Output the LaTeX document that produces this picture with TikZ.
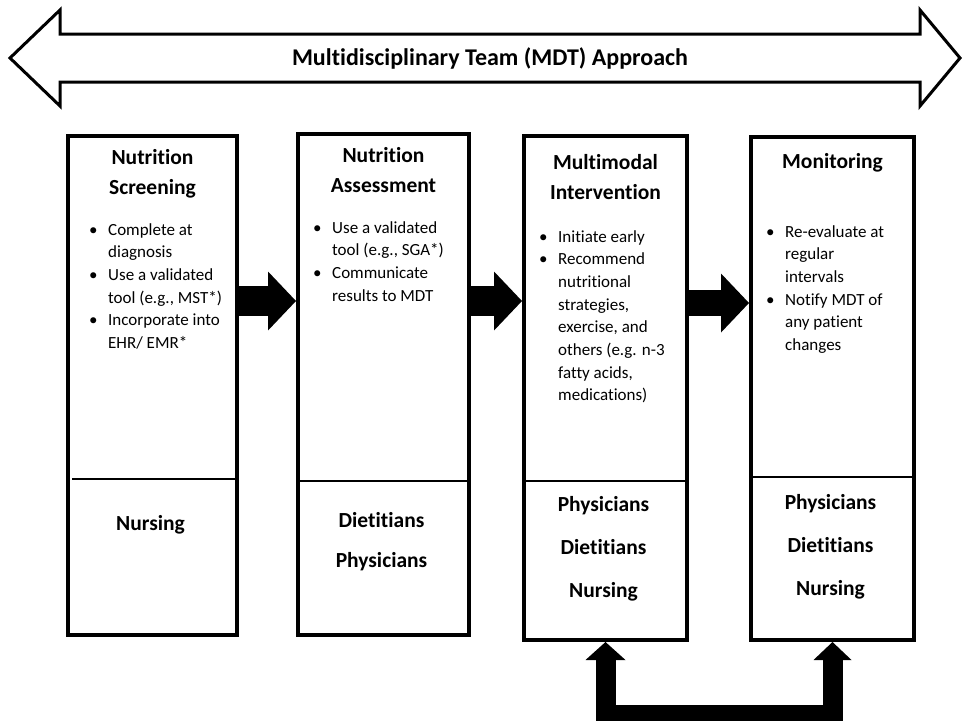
\documentclass[tikz,border=0pt]{standalone}
\usepackage{fontspec}
\setmainfont{Carlito}[Ligatures=NoCommon]
\usetikzlibrary{positioning,calc,arrows.meta}

\newcommand{\bul}{\makebox[19pt][l]{•}}
\newcommand{\ind}{\makebox[19pt]{}}

\begin{document}
\begin{tikzpicture}[x=1pt,y=-1pt,
stagebox/.style={rectangle, draw=black, line width=4pt, inner sep=0pt, anchor=north west},
stagetitle/.style={align=center, font=\fontsize{21.5}{30}\selectfont\bfseries},
stagetext/.style={align=left, anchor=north west, inner sep=0pt, font=\fontsize{17}{22.7}\selectfont},
rolelist/.style={align=center, font=\fontsize{21.5}{43}\selectfont\bfseries},
divider/.style={line width=1.5pt},
blockarrow/.style={line width=30pt, -{Triangle[length=28pt,width=59pt,line width=0pt]}},
backarrow/.style={line width=20pt, line join=miter, {Triangle[length=18pt,width=40pt,line width=0pt]}-{Triangle[length=18pt,width=38pt,line width=0pt]}},
]
\useasboundingbox (0,0) rectangle (963,720);

%Top arrow
\draw[line width=3pt, fill=white] (10,58) -- (60,10) -- (60,34) -- (920,34) -- (920,10) -- (960,58)
  -- (920,106) -- (920,82) -- (60,82) -- (60,106) -- cycle;
\node[font=\fontsize{24}{28}\selectfont\bfseries] (mdt) at (490,58) {Multidisciplinary Team (MDT) Approach};

%Nodes
\node[stagebox, minimum width=169, minimum height=499] (scr) at (66,134) {};
\node[stagebox, minimum width=171, minimum height=501] (asm) at (296,132) {};
\node[stagebox, minimum width=163, minimum height=504] (int) at (522,134) {};
\node[stagebox, minimum width=163, minimum height=503] (mon) at (749,135) {};

\node[stagetitle] (scrtitle) at ($(scr.north)+(0,40)$) {Nutrition\\Screening};
\node[stagetitle] (asmtitle) at ($(asm.north)+(0,38.5)$) {Nutrition\\Assessment};
\node[stagetitle] (inttitle) at ($(int.north)+(0,43.5)$) {Multimodal\\Intervention};
\node[stagetitle] (montitle) at ($(mon.north)+(0,28)$) {Monitoring};

\node[stagetext] (scrtext) at ($(scr.north west)+(23,89)$) {\bul Complete at\\ \ind diagnosis\\ \bul Use a validated\\ \ind tool (e.g., MST*)\\ \bul Incorporate into\\ \ind EHR/ EMR*};
\node[stagetext] (asmtext) at ($(asm.north west)+(17,89)$) {\bul Use a validated\\ \ind tool (e.g., SGA*)\\ \bul Communicate\\ \ind results to MDT};
\node[stagetext] (inttext) at ($(int.north west)+(17,96)$) {\bul Initiate early\\ \bul Recommend\\ \ind nutritional\\ \ind strategies,\\ \ind exercise, and\\ \ind others (e.g. n-3\\ \ind fatty acids,\\ \ind medications)};
\node[stagetext] (montext) at ($(mon.north west)+(17,90)$) {\bul Re-evaluate at\\ \ind regular\\ \ind intervals\\ \bul Notify MDT of\\ \ind any patient\\ \ind changes};

\node[rolelist] (scrrole) at (150.5,525) {Nursing};
\node[rolelist, font=\fontsize{21.5}{40}\selectfont\bfseries] (asmrole) at (381.5,542) {Dietitians\\Physicians};
\node[rolelist] (introle) at (603.5,548.5) {Physicians\\Dietitians\\Nursing};
\node[rolelist] (monrole) at (830.5,547) {Physicians\\Dietitians\\Nursing};

%Lines
\draw[divider] ($(scr.north west)+(6,345)$) -- ($(scr.north east)+(0,345)$);
\draw[divider] ($(asm.north west)+(1,349)$) -- ($(asm.north east)+(-4,349)$);
\draw[divider] ($(int.north west)+(0,347)$) -- ($(int.north east)+(0,347)$);
\draw[divider] ($(mon.north west)+(0,342)$) -- ($(mon.north east)+(0,342)$);

\draw[blockarrow] (scr.east |- 0,301) -- (asm.west |- 0,301);
\draw[blockarrow] (asm.east |- 0,301) -- (int.west |- 0,301);
\draw[blockarrow, line width=26pt] (int.east |- 0,303) -- (mon.west |- 0,303);

\draw[backarrow] (int.south) -- ++(0,73) -| (mon.south);
\end{tikzpicture}
\end{document}
